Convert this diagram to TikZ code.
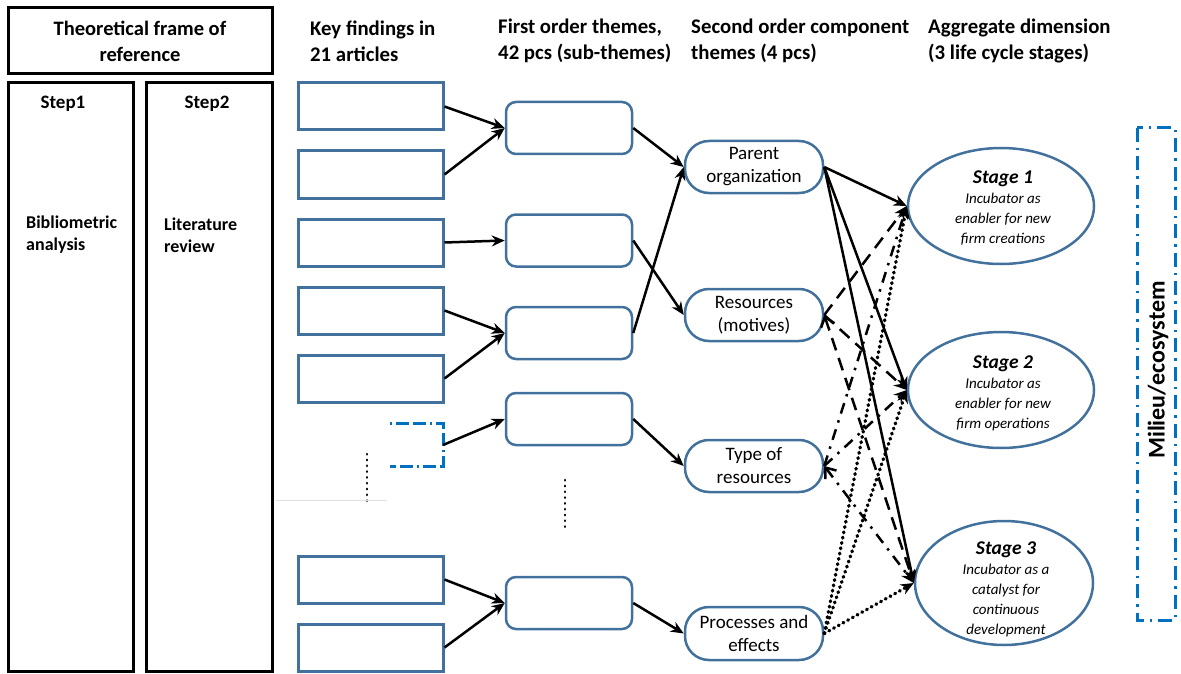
\documentclass[tikz,border=0pt]{standalone}
\usepackage{fontspec}
\setmainfont{Carlito}
\usetikzlibrary{arrows.meta,shapes.geometric}
\definecolor{boxblue}{RGB}{65,113,156}
\definecolor{brightblue}{RGB}{0,112,192}
\begin{document}
\begin{tikzpicture}[x=1pt,y=-1pt,
  blk/.style={draw=black,line width=3pt},
  kbox/.style={draw=boxblue,line width=3pt,minimum width=145pt,minimum height=47pt,inner sep=0pt},
  fobox/.style={draw=boxblue,line width=2.5pt,rounded corners=10pt,minimum width=126pt,minimum height=52pt,inner sep=0pt},
  sbox/.style={draw=boxblue,line width=2.5pt,rounded corners=24pt,minimum width=138pt,minimum height=52pt,inner sep=0pt,align=center,font=\fontsize{19}{23}\selectfont},
  stage/.style={ellipse,draw=boxblue,line width=2.5pt,inner sep=0pt},
  stagetxt/.style={align=center,inner sep=0pt,font=\itshape\fontsize{15}{20}\selectfont},
  hdr/.style={font=\bfseries\fontsize{20.8}{26}\selectfont,align=left,anchor=west,inner sep=0pt},
  conn/.style={line width=2.5pt,-{Stealth[length=13pt,width=11pt]}},
  sconn/.style={line width=2.5pt,-{Stealth[length=13pt,width=11pt]}},
  dashln/.style={sconn,dash pattern=on 13pt off 8pt},
  dashdotln/.style={sconn,dash pattern=on 11pt off 7pt on 2.5pt off 7pt},
  dotln/.style={sconn,line cap=round,dash pattern=on 0.8pt off 4.6pt,line width=3.4pt},
  smalldots/.style={line width=2.6pt,line cap=round,dash pattern=on 0.4pt off 5.4pt},
  barbstart/.style={{Straight Barb[length=9pt,width=14pt]}-{Stealth[length=13pt,width=11pt]}}
]
\useasboundingbox (0,0) rectangle (1181,674);

% left frame
\node[blk,minimum width=264pt,minimum height=66pt,inner sep=0pt,align=center,
      font=\bfseries\fontsize{20.5}{26}\selectfont] (tfr) at (140,41) {Theoretical frame of\\reference};
\node[blk,minimum width=125pt,minimum height=588pt,inner sep=0pt] (st1) at (70.5,377) {};
\node[blk,minimum width=126pt,minimum height=588pt,inner sep=0pt] (st2) at (209,377) {};
\node[font=\bfseries\fontsize{19}{22}\selectfont,inner sep=0pt] (st1t) at (63,104) {Step1};
\node[font=\bfseries\fontsize{19}{22}\selectfont,inner sep=0pt] (st2t) at (207,104) {Step2};
\node[font=\bfseries\fontsize{18}{22}\selectfont,align=left,anchor=west,inner sep=0pt] (bib) at (26,235) {Bibliometric\\analysis};
\node[font=\bfseries\fontsize{18}{22}\selectfont,align=left,anchor=west,inner sep=0pt] (lit) at (164,235) {Literature\\review};

% headers
\node[hdr] (h1) at (310,41) {Key findings in\\21 articles};
\node[hdr] (h2) at (498,41) {First order themes,\\42 pcs (sub-themes)};
\node[hdr] (h3) at (691,41) {Second order component\\themes (4 pcs)};
\node[hdr] (h4) at (928,41) {Aggregate dimension\\(3 life cycle stages)};

% key findings
\node[kbox] (k1) at (370.5,106.5) {};
\node[kbox] (k2) at (370.5,174.5) {};
\node[kbox] (k3) at (370.5,242.5) {};
\node[kbox] (k4) at (370.5,310.5) {};
\node[kbox] (k5) at (370.5,378.5) {};
\node[kbox] (k6) at (370.5,579.5) {};
\node[kbox] (k7) at (370.5,647.5) {};
\coordinate (dbE) at (443,445);
\draw[brightblue,line width=3pt,dash pattern=on 2pt off 4pt on 13pt off 4pt on 13pt off 4pt]
  (390,423) -- (443,423) -- (443,466) -- (390,466);
\draw[smalldots] (367,454) -- (367,504);
\draw[gray!25,line width=0.6pt] (276,500) -- (387,500);

% first order
\node[fobox] (f1) at (569,128) {};
\node[fobox] (f2) at (569,240.5) {};
\node[fobox] (f3) at (569,333) {};
\node[fobox] (f4) at (569,419) {};
\node[fobox] (f5) at (569,603) {};
\draw[smalldots] (565,480) -- (565,528);

% second order
\node[sbox] (p) at (754,167) {Parent\\organization};
\node[sbox] (r) at (754,315) {Resources\\(motives)};
\node[sbox] (t) at (754,466) {Type of\\resources};
\node[sbox,minimum height=53pt] (q) at (754,633.5) {Processes and\\effects};

% stages
\node[stage,minimum width=186pt,minimum height=116pt] (s1) at (1001,206) {};
\node[stage,minimum width=186pt,minimum height=116pt] (s2) at (1001,390) {};
\node[stage,minimum width=178pt,minimum height=124pt] (s3) at (1004,583) {};
\node[stagetxt] (s1t) at (1003,208) {{\bfseries\fontsize{19.5}{24}\selectfont Stage 1}\\Incubator as\\enabler for new\\firm creations};
\node[stagetxt] (s2t) at (1003,393) {{\bfseries\fontsize{19.5}{24}\selectfont Stage 2}\\Incubator as\\enabler for new\\firm operations};
\node[stagetxt] (s3t) at (1006,589) {{\bfseries\fontsize{19.5}{24}\selectfont Stage 3}\\Incubator as a\\catalyst for\\continuous\\development};

% milieu
\draw[brightblue,line width=3pt,dash pattern=on 14pt off 6pt on 2.5pt off 6pt] (1137,128) rectangle (1175,620);
\node[rotate=90,font=\bfseries\fontsize{24}{26}\selectfont,inner sep=0pt] (mil) at (1158,370) {Milieu/ecosystem};

% connectors key -> first
\draw[conn] (k1.east) -- (f1.west);
\draw[conn] (k2.east) -- (f1.west);
\draw[conn] (k3.east) -- (f2.west);
\draw[conn] (k4.east) -- (f3.west);
\draw[conn] (k5.east) -- (f3.west);
\draw[conn] (dbE) -- (f4.west);
\draw[conn] (k6.east) -- (f5.west);
\draw[conn] (k7.east) -- (f5.west);

% first -> second
\draw[conn] (f1.east) -- (p.west);
\draw[conn] (f2.east) -- (r.west);
\draw[conn] (f3.east) -- (p.west);
\draw[conn] (f4.east) -- (t.west);
\draw[conn] (f5.east) -- (q.west);

% second -> stages
\draw[sconn] (p.east) -- (s1.west);
\draw[sconn] (p.east) -- (s2.west);
\draw[sconn] (p.east) -- (s3.west);
\draw[dashln] (r.east) -- (s1.west);
\draw[dashln] (r.east) -- (s2.west);
\draw[dashln,barbstart] (r.east) -- (s3.west);
\draw[dashdotln] (t.east) -- (s1.west);
\draw[dashdotln] (t.east) -- (s2.west);
\draw[dashdotln,barbstart] (t.east) -- (s3.west);
\draw[dotln] (q.east) -- (s1.west);
\draw[dotln] (q.east) -- (s2.west);
\draw[dotln] (q.east) -- (s3.west);
\end{tikzpicture}
\end{document}
